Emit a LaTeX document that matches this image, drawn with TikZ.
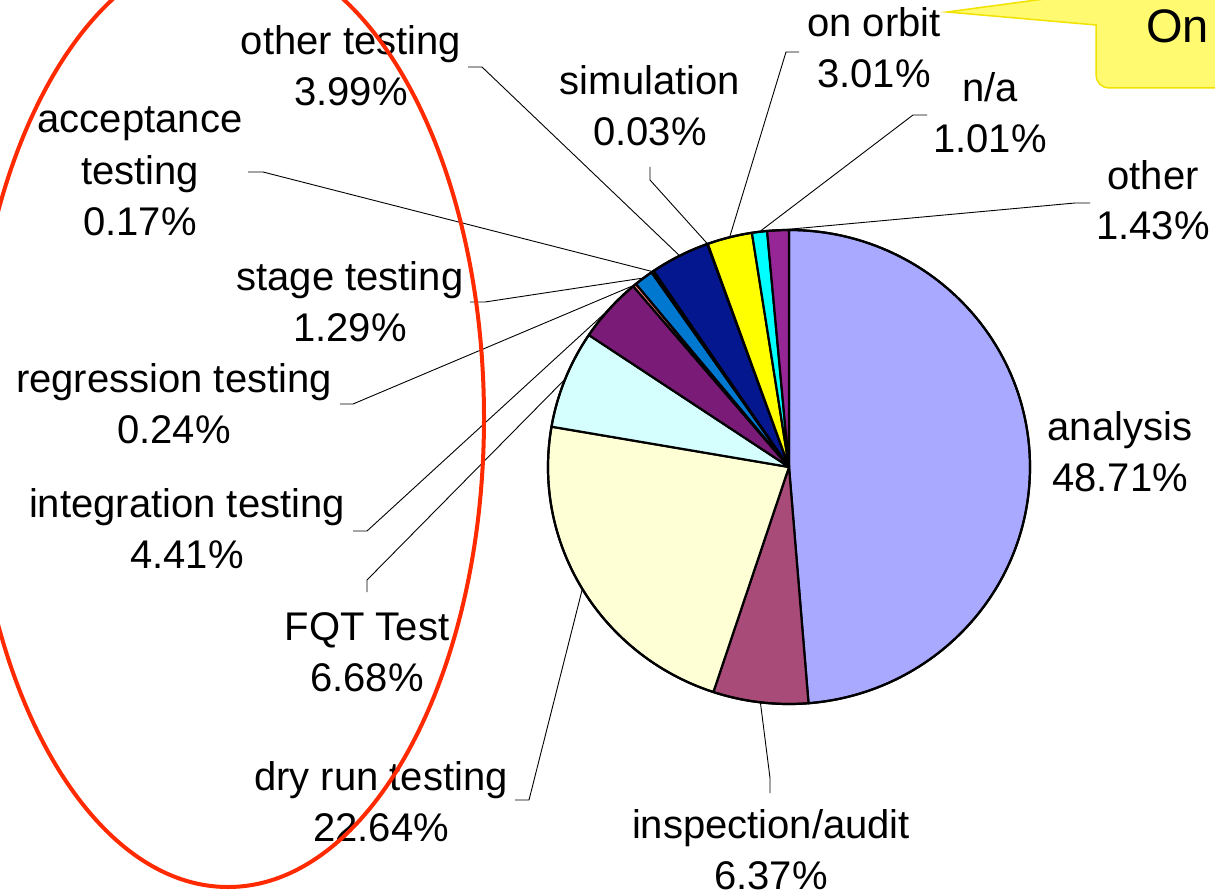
\documentclass[tikz,border=0pt]{standalone}
\usepackage{fontspec}
\setmainfont{Liberation Sans}

\definecolor{cAnalysis}{HTML}{A9A9FF}
\definecolor{cInspect}{HTML}{A84B78}
\definecolor{cDry}{HTML}{FFFFD5}
\definecolor{cFQT}{HTML}{D5FFFF}
\definecolor{cInteg}{HTML}{7A1C77}
\definecolor{cRegr}{HTML}{FF8080}
\definecolor{cStage}{HTML}{0078D0}
\definecolor{cAccept}{HTML}{CCCCFF}
\definecolor{cOtherT}{HTML}{04178E}
\definecolor{cSim}{HTML}{FF00FF}
\definecolor{cOrbit}{HTML}{FFFF00}
\definecolor{cNA}{HTML}{00FFFF}
\definecolor{cOther}{HTML}{962696}
\definecolor{calloutFill}{HTML}{FFFA70}
\definecolor{calloutLine}{HTML}{F2E200}
\definecolor{ringRed}{HTML}{FF2A00}

\begin{document}
\begin{tikzpicture}[x=1pt,y=-1pt,
  slice/.style={draw=black,line width=2.2pt,line join=round},
  leader/.style={draw=black,line width=0.9pt},
  % labels are placed by the baseline of their last line
  lbl/.style={align=center,inner sep=0pt,anchor=base,
    font=\fontsize{40}{51}\selectfont},
  ring/.style={draw=ringRed,line width=4pt}]
\useasboundingbox (0,0) rectangle (1215,896);
\fill[white] (0,0) rectangle (1215,896);

% pie centre; radii 241 (across) and 237 (down)
\coordinate (C) at (789,467);

% slices, clockwise from the top: start %, end %, colour
\foreach \a/\b/\c in {0/48.71/cAnalysis, 48.71/55.08/cInspect,
    55.08/77.72/cDry, 77.72/84.40/cFQT, 84.40/88.81/cInteg,
    88.81/89.05/cRegr, 89.05/90.34/cStage, 90.34/90.51/cAccept,
    90.51/94.50/cOtherT, 94.50/94.53/cSim, 94.53/97.54/cOrbit,
    97.54/98.55/cNA, 98.55/100/cOther}{
  \filldraw[slice,fill=\c] (C) -- ++({-90+3.6*\a}:241 and 237)
    arc[start angle={-90+3.6*\a},end angle={-90+3.6*\b},
        x radius=241,y radius=237] -- cycle;
}
\draw[slice] (C) ellipse [x radius=241,y radius=237];

% rim points at the middle of each slice
\newcommand\rimpoint[2]{\path (C) ++({-90+3.6*#1}:241 and 237) coordinate (#2);}
\rimpoint{51.895}{r-ins}
\rimpoint{66.40}{r-dry}
\rimpoint{81.06}{r-fqt}
\rimpoint{86.605}{r-int}
\rimpoint{88.93}{r-reg}
\rimpoint{89.695}{r-stg}
\rimpoint{90.425}{r-acc}
\rimpoint{92.505}{r-ot}
\rimpoint{94.515}{r-sim}
\rimpoint{96.035}{r-orb}
\rimpoint{98.045}{r-na}
\rimpoint{99.265}{r-oth}

% labels
\node[lbl] (l-ot)  at (351,106) {other testing\\3.99\%};
\node[lbl] (l-acc) at (140,235) {acceptance\\testing\\0.17\%};
\node[lbl] (l-stg) at (350,341) {stage testing\\1.29\%};
\node[lbl] (l-reg) at (174,443) {regression testing\\0.24\%};
\node[lbl] (l-int) at (187,568) {integration testing\\4.41\%};
\node[lbl] (l-fqt) at (367,691) {FQT Test\\6.68\%};
\node[lbl] (l-dry) at (381,841) {dry run testing\\22.64\%};
\node[lbl] (l-ins) at (771,889) {inspection/audit\\6.37\%};
\node[lbl] (l-ana) at (1120,491) {analysis\\48.71\%};
\node[lbl] (l-oth) at (1153,240) {other\\1.43\%};
\node[lbl] (l-na)  at (990,153) {n/a\\1.01\%};
\node[lbl] (l-orb) at (874,88)  {on orbit\\3.01\%};
\node[lbl] (l-sim) at (650,146) {simulation\\0.03\%};

% leader lines: label end, elbow, slice
\coordinate (a-ot)  at (468,67);  \coordinate (e-ot)  at (482,67);
\coordinate (a-acc) at (248,172); \coordinate (e-acc) at (263,172);
\coordinate (a-stg) at (470,302); \coordinate (e-stg) at (485,302);
\coordinate (a-reg) at (340,404); \coordinate (e-reg) at (353,404);
\coordinate (a-int) at (353,531); \coordinate (e-int) at (367,531);
\coordinate (a-fqt) at (367,592); \coordinate (e-fqt) at (367,580);
\coordinate (a-dry) at (515,800); \coordinate (e-dry) at (529,800);
\coordinate (a-ins) at (770,793); \coordinate (e-ins) at (770,778);
\coordinate (a-sim) at (650,167); \coordinate (e-sim) at (650,180);
\coordinate (a-orb) at (799,52);  \coordinate (e-orb) at (786,52);
\coordinate (a-na)  at (927,115); \coordinate (e-na)  at (913,115);
\coordinate (a-oth) at (1090,203);\coordinate (e-oth) at (1075,203);
\foreach \k in {ot,acc,stg,reg,int,fqt,dry,ins,sim,orb,na,oth}{
  \draw[leader] (a-\k) -- (e-\k) -- (r-\k);
}

% callout box with its pointer
\filldraw[fill=calloutFill,draw=calloutLine,line width=1.5pt]
  (1240,-30) -- (1096,-30) -- (1096,-8) -- (947,12) -- (1096,25)
  [rounded corners=13pt] -- (1096,88) -- (1240,88) [sharp corners] -- cycle;
\node[inner sep=0pt,anchor=base west,font=\fontsize{47}{52}\selectfont]
  (callout) at (1146,43) {On};

% red ring round the testing labels
\draw[ring] (228,418) ellipse [x radius=256,y radius=469];
\end{tikzpicture}
\end{document}
